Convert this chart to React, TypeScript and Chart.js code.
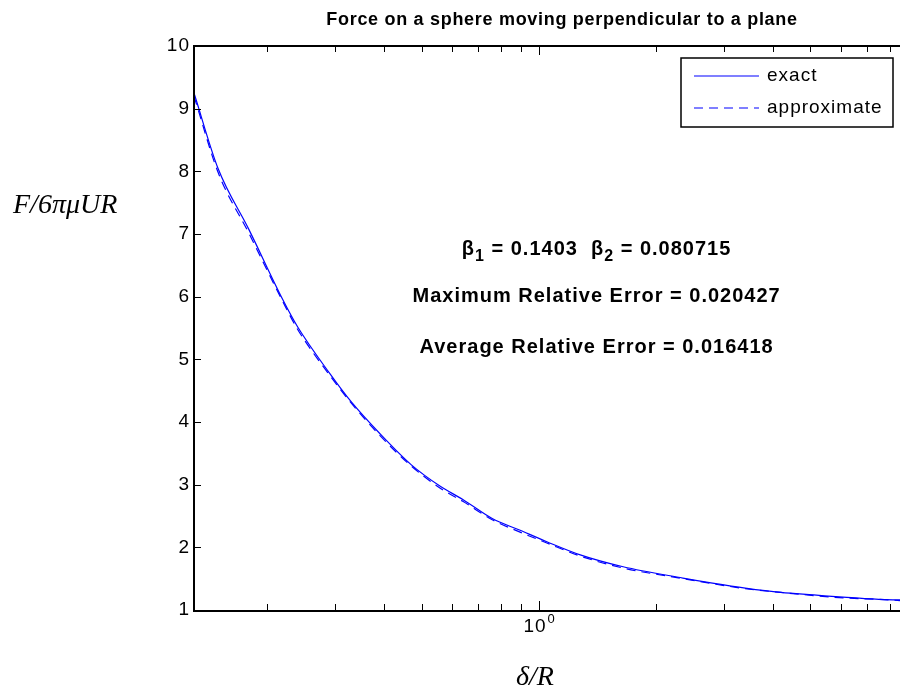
import React, { useEffect, useRef } from "react";
import { Chart, registerables } from "chart.js";

Chart.register(...registerables);

// ---- data ----
const deltaOverR = [0.13, 0.15, 0.18, 0.22, 0.24, 0.29, 0.33, 0.39, 0.47, 0.56, 0.64, 0.76, 0.89, 1.05, 1.28, 1.65, 2.35, 2.8, 3.4, 4.2, 5.1, 6.2, 7.5, 8.5];
const exactForce = [9.25, 8.04, 7.07, 5.95, 5.52, 4.78, 4.32, 3.82, 3.32, 2.97, 2.76, 2.46, 2.28, 2.09, 1.88, 1.69, 1.51, 1.43, 1.35, 1.28, 1.24, 1.2, 1.17, 1.16];
const approxForce = [9.2, 7.98, 7.01, 5.92, 5.48, 4.75, 4.3, 3.79, 3.3, 2.94, 2.73, 2.44, 2.25, 2.07, 1.86, 1.67, 1.5, 1.42, 1.34, 1.28, 1.23, 1.19, 1.17, 1.15];

const seriesLabels = ["exact", "approximate"];
const yTicks = [1, 2, 3, 4, 5, 6, 7, 8, 9, 10];
const xMajorTicks = [1];
const xMinorTicks = [0.2, 0.3, 0.4, 0.5, 0.6, 0.7, 0.8, 0.9, 2, 3, 4, 5, 6, 7, 8];
const xMin = 0.13;
const xMax = 8.5;
const yMin = 1;
const yMax = 10;

const titleText = "Force on a sphere moving perpendicular to a plane";
const xLabelText = "δ/R";
const yLabelText = "F/6πμUR";
const beta1 = "0.1403";
const beta2 = "0.080715";
const maxErrText = "Maximum Relative Error = 0.020427";
const avgErrText = "Average Relative Error = 0.016418";
// annotation anchor (data coords): centre x, baselines y
const annotX = 1.41;
const annotY = [6.665, 5.915, 5.1];

const BLUE = "#0000ff";
const SANS = '"Liberation Sans", Arial, Helvetica, sans-serif';
const SERIF = '"Liberation Serif", "Times New Roman", serif';

const matlabPlugin = {
  id: "matlabAxes",
  afterDatasetsDraw(chart: any) {
    const { ctx, chartArea, scales } = chart;
    const { left, right, top, bottom } = chartArea;
    const xs = scales.x;
    const ys = scales.y;
    ctx.save();
    (ctx as any).letterSpacing = "0px";

    // tick marks
    ctx.strokeStyle = "#000";
    ctx.lineWidth = 1;
    ctx.beginPath();
    yTicks.forEach((v) => {
      const py = Math.round(ys.getPixelForValue(v)) + 0.5;
      ctx.moveTo(left, py);
      ctx.lineTo(left + 7, py);
    });
    const xt = (v: number, len: number) => {
      const px = Math.round(xs.getPixelForValue(v)) + 0.5;
      ctx.moveTo(px, bottom);
      ctx.lineTo(px, bottom - len);
      ctx.moveTo(px, top);
      ctx.lineTo(px, top + len);
    };
    xMinorTicks.forEach((v) => xt(v, 6));
    xMajorTicks.forEach((v) => xt(v, 9));
    ctx.stroke();

    // axes box (left, bottom, top)
    ctx.lineWidth = 2;
    ctx.beginPath();
    ctx.moveTo(left, top);
    ctx.lineTo(right, top);
    ctx.moveTo(left, top - 1);
    ctx.lineTo(left, bottom + 1);
    ctx.lineTo(right, bottom + 1);
    ctx.stroke();

    // y tick labels
    ctx.fillStyle = "#000";
    (ctx as any).letterSpacing = "1px";
    ctx.font = `19px ${SANS}`;
    ctx.textAlign = "right";
    ctx.textBaseline = "middle";
    yTicks.forEach((v) => {
      ctx.fillText(String(v), left - 4, ys.getPixelForValue(v));
    });

    // x tick labels 10^0
    xMajorTicks.forEach((v) => {
      const px = xs.getPixelForValue(v);
      const exp = Math.round(Math.log10(v));
      ctx.font = `19px ${SANS}`;
      ctx.textAlign = "right";
      ctx.textBaseline = "alphabetic";
      ctx.fillText("10", px + 8, bottom + 22);
      ctx.font = `13px ${SANS}`;
      ctx.textAlign = "left";
      ctx.fillText(String(exp), px + 9, bottom + 13);
    });

    // title
    (ctx as any).letterSpacing = "0.7px";
    ctx.font = `bold 18px ${SANS}`;
    ctx.textAlign = "center";
    ctx.textBaseline = "middle";
    ctx.fillText(titleText, 562, top - 26);

    // axis labels
    (ctx as any).letterSpacing = "0px";
    ctx.font = `italic 28px ${SERIF}`;
    ctx.textAlign = "center";
    ctx.fillText(xLabelText, 535, bottom + 68);
    ctx.textAlign = "left";
    ctx.fillText(yLabelText, 13, ys.getPixelForValue(yMax) + 160);

    // annotations
    (ctx as any).letterSpacing = "1px";
    const cx = xs.getPixelForValue(annotX);
    ctx.textBaseline = "alphabetic";
    const big = `bold 20px ${SANS}`;
    const small = `bold 16px ${SANS}`;
    const parts: [string, string, number][] = [
      ["β", big, 0],
      ["1", small, 6],
      [" = " + beta1 + "  β", big, 0],
      ["2", small, 6],
      [" = " + beta2, big, 0],
    ];
    let total = 0;
    parts.forEach(([t, f]) => {
      ctx.font = f;
      total += ctx.measureText(t).width;
    });
    let px = cx - total / 2;
    const b0 = ys.getPixelForValue(annotY[0]);
    ctx.textAlign = "left";
    parts.forEach(([t, f, dy]) => {
      ctx.font = f;
      ctx.fillText(t, px, b0 + dy);
      px += ctx.measureText(t).width;
    });
    ctx.font = big;
    ctx.textAlign = "center";
    ctx.fillText(maxErrText, cx, ys.getPixelForValue(annotY[1]));
    ctx.fillText(avgErrText, cx, ys.getPixelForValue(annotY[2]));

    // legend
    const lx0 = right - 219;
    const ly0 = top + 12;
    const lw = 212;
    const lh = 69;
    ctx.fillStyle = "#fff";
    ctx.fillRect(lx0, ly0, lw, lh);
    ctx.strokeStyle = "#000";
    ctx.lineWidth = 1.5;
    ctx.strokeRect(lx0, ly0, lw, lh);
    chart.data.datasets.forEach((ds: any, i: number) => {
      const yy = ly0 + 18 + i * 32;
      ctx.strokeStyle = ds.borderColor;
      ctx.lineWidth = 1.2;
      ctx.setLineDash(ds.borderDash || []);
      ctx.beginPath();
      ctx.moveTo(lx0 + 13, yy);
      ctx.lineTo(lx0 + 78, yy);
      ctx.stroke();
      ctx.setLineDash([]);
      ctx.fillStyle = "#000";
      ctx.font = `19px ${SANS}`;
      ctx.textAlign = "left";
      ctx.textBaseline = "middle";
      ctx.fillText(ds.label, lx0 + 86, yy);
    });
    ctx.restore();
  },
};

export default function App() {
  const ref = useRef<HTMLCanvasElement | null>(null);
  useEffect(() => {
    if (!ref.current) return;
    const toPts = (ys: number[]) => deltaOverR.map((x, i) => ({ x, y: ys[i] }));
    const chart = new Chart(ref.current, {
      type: "line",
      data: {
        datasets: [
          {
            label: seriesLabels[0],
            data: toPts(exactForce),
            borderColor: BLUE,
            borderWidth: 1.2,
            pointRadius: 0,
            cubicInterpolationMode: "monotone",
            fill: false,
          },
          {
            label: seriesLabels[1],
            data: toPts(approxForce),
            borderColor: BLUE,
            borderWidth: 1.2,
            borderDash: [9, 6],
            pointRadius: 0,
            cubicInterpolationMode: "monotone",
            fill: false,
          },
        ],
      },
      options: {
        animation: false,
        responsive: false,
        devicePixelRatio: 1,
        layout: { padding: { left: 194, top: 46, right: 0, bottom: 84 } },
        plugins: { legend: { display: false }, tooltip: { enabled: false } },
        scales: {
          x: { type: "logarithmic", min: xMin, max: xMax, display: false },
          y: { type: "linear", min: yMin, max: yMax, display: false },
        },
      },
      plugins: [matlabPlugin],
    } as any);
    return () => chart.destroy();
  }, []);
  return (
    <div style={{ position: "absolute", left: 0, top: 0, width: 900, height: 694, background: "#fff", overflow: "hidden" }}>
      <canvas ref={ref} width={900} height={694} />
    </div>
  );
}
